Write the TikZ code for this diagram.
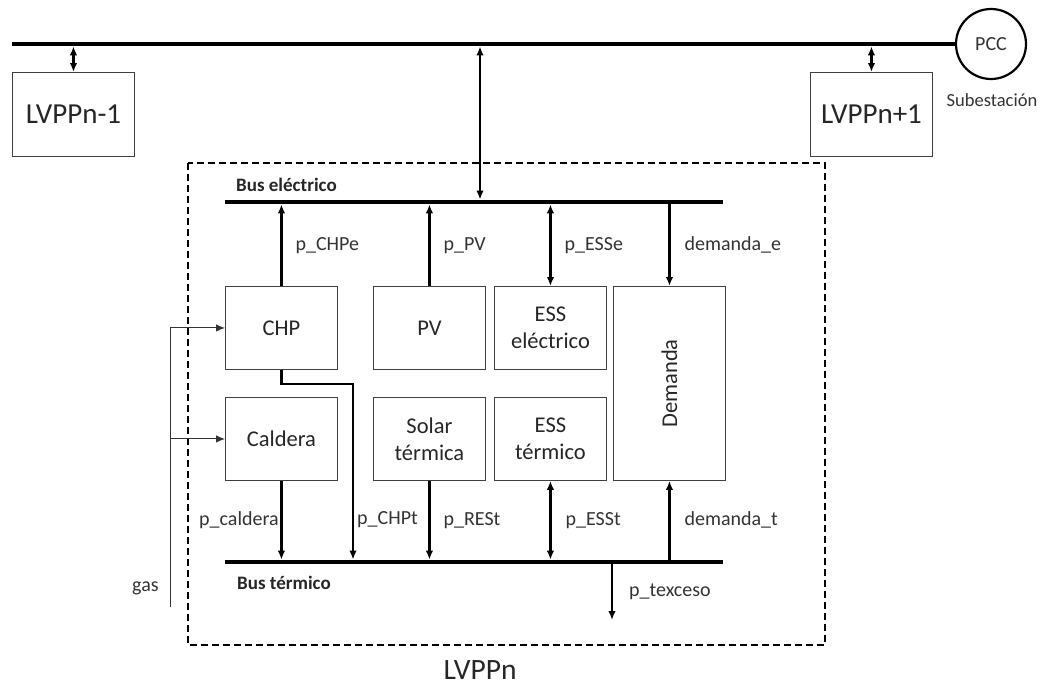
\documentclass[tikz,border=0pt]{standalone}
\usepackage{fontspec}
\setmainfont{Carlito}
\usetikzlibrary{arrows.meta, positioning, calc}

\begin{document}
\begin{tikzpicture}[
  x=1pt, y=-1pt,
  >={Latex[length=9pt,width=7.5pt]},
  box/.style={
    draw=black!75,
    line width=0.9pt,
    anchor=north west,
    align=center,
    minimum width=112pt,
    minimum height=83pt,
    inner sep=2pt,
    text=black!85,
    font=\fontsize{22.5}{27}\selectfont
  },
  lvpp/.style={box, minimum width=122pt, minimum height=84pt, font=\fontsize{29}{34}\selectfont},
  bus/.style={line width=4.8pt},
  flow/.style={line width=2.3pt},
  gasline/.style={line width=1pt, black!80},
  lbl/.style={anchor=west, inner sep=0pt, font=\fontsize{20}{24}\selectfont, text=black!80},
  buslbl/.style={anchor=west, inner sep=0pt, font=\bfseries\fontsize{19}{22}\selectfont, text=black!85}
]
\useasboundingbox (0,0) rectangle (1045,691);

% red principal y subestacion
\node[draw, circle, line width=2.2pt, minimum size=70pt, inner sep=0pt, text=black!80, font=\fontsize{20}{24}\selectfont] (pcc) at (991,44) {PCC};
\node[font=\fontsize{18.5}{22}\selectfont, text=black!80] (sub) at (992,100) {Subestación};
\coordinate (netA) at (12,44);
\draw[bus] (netA) -- (pcc.west);

\node[lvpp] (prev) at (12,72) {LVPPn-1};
\node[lvpp] (next) at (810,72) {LVPPn+1};
\draw[flow,<->] (prev.north) -- ($(prev.north |- netA)+(0,2.4)$);
\draw[flow,<->] (next.north) -- ($(next.north |- netA)+(0,2.4)$);

% LVPPn
\draw[line width=1.6pt, dash pattern=on 7pt off 4pt] (188,163) rectangle (825,645);
\node[font=\fontsize{29.5}{34}\selectfont, text=black!85] (name) at (480,670) {LVPPn};

% buses internos
\coordinate (eA) at (225,202);
\coordinate (eB) at (723,202);
\coordinate (tA) at (225,562);
\coordinate (tB) at (723,562);
\draw[bus] (eA) -- (eB);
\draw[bus] (tA) -- (tB);
\node[buslbl] (elbl) at (236,185) {Bus eléctrico};
\node[buslbl] (tlbl) at (237,583) {Bus térmico};

\draw[flow,<->] ($(480,44)+(0,2.4)$) -- ($(480,202)+(0,-2.4)$);

% unidades
\node[box] (chp) at (225,286) {CHP};
\node[box] (cal) at (225,397) {Caldera};
\node[box] (pv) at (373,286) {PV};
\node[box] (sol) at (373,397) {Solar\\térmica};
\node[box] (esse) at (494,286) {ESS\\eléctrico};
\node[box] (esst) at (494,397) {ESS\\térmico};
\node[box, minimum height=194pt] (dem) at (613,286) {};
\node[rotate=90, text=black!85, font=\fontsize{22.5}{27}\selectfont] (demtxt) at (dem.center) {Demanda};

% flujos electricos
\draw[flow,->] (chp.north) -- ($(chp.north |- eA)+(0,2.4)$) node[lbl, midway, xshift=13pt] {p\_CHPe};
\draw[flow,->] (pv.north) -- ($(pv.north |- eA)+(0,2.4)$) node[lbl, midway, xshift=13pt] {p\_PV};
\draw[flow,<->] (esse.north) -- ($(esse.north |- eA)+(0,2.4)$) node[lbl, midway, xshift=13pt] {p\_ESSe};
\draw[flow,->] ($(dem.north |- eA)+(0,2.4)$) -- (dem.north) node[lbl, midway, xshift=14pt] {demanda\_e};

% flujos termicos
\coordinate (chpbend) at (353,384);
\draw[flow,->] (chp.south) |- (chpbend) -- ($(chpbend |- tA)+(0,-2.4)$);
\node[lbl] (chptlbl) at (357,520) {p\_CHPt};
\draw[flow,->] (cal.south) -- ($(cal.south |- tA)+(0,-2.4)$);
\node[lbl] (callbl) at (199,520) {p\_caldera};
\draw[flow,->] (sol.south) -- ($(sol.south |- tA)+(0,-2.4)$) node[lbl, midway, xshift=13pt] {p\_RESt};
\draw[flow,<->] (esst.south) -- ($(esst.south |- tA)+(0,-2.4)$) node[lbl, midway, xshift=14pt] {p\_ESSt};
\draw[flow,->] ($(dem.south |- tA)+(0,-2.4)$) -- (dem.south) node[lbl, midway, xshift=14pt] {demanda\_t};
\coordinate (exc) at (612,620);
\draw[flow,->] ($(exc |- tA)+(0,2.4)$) -- (exc) node[lbl, pos=0.5, xshift=16pt] {p\_texceso};

% gas
\coordinate (gasbot) at (170,607);
\draw[gasline,->] (gasbot) |- (chp.west);
\draw[gasline,->] (gasbot |- cal.west) -- (cal.west);
\node[lbl] (gaslbl) at (132,588) {gas};

\end{tikzpicture}
\end{document}
